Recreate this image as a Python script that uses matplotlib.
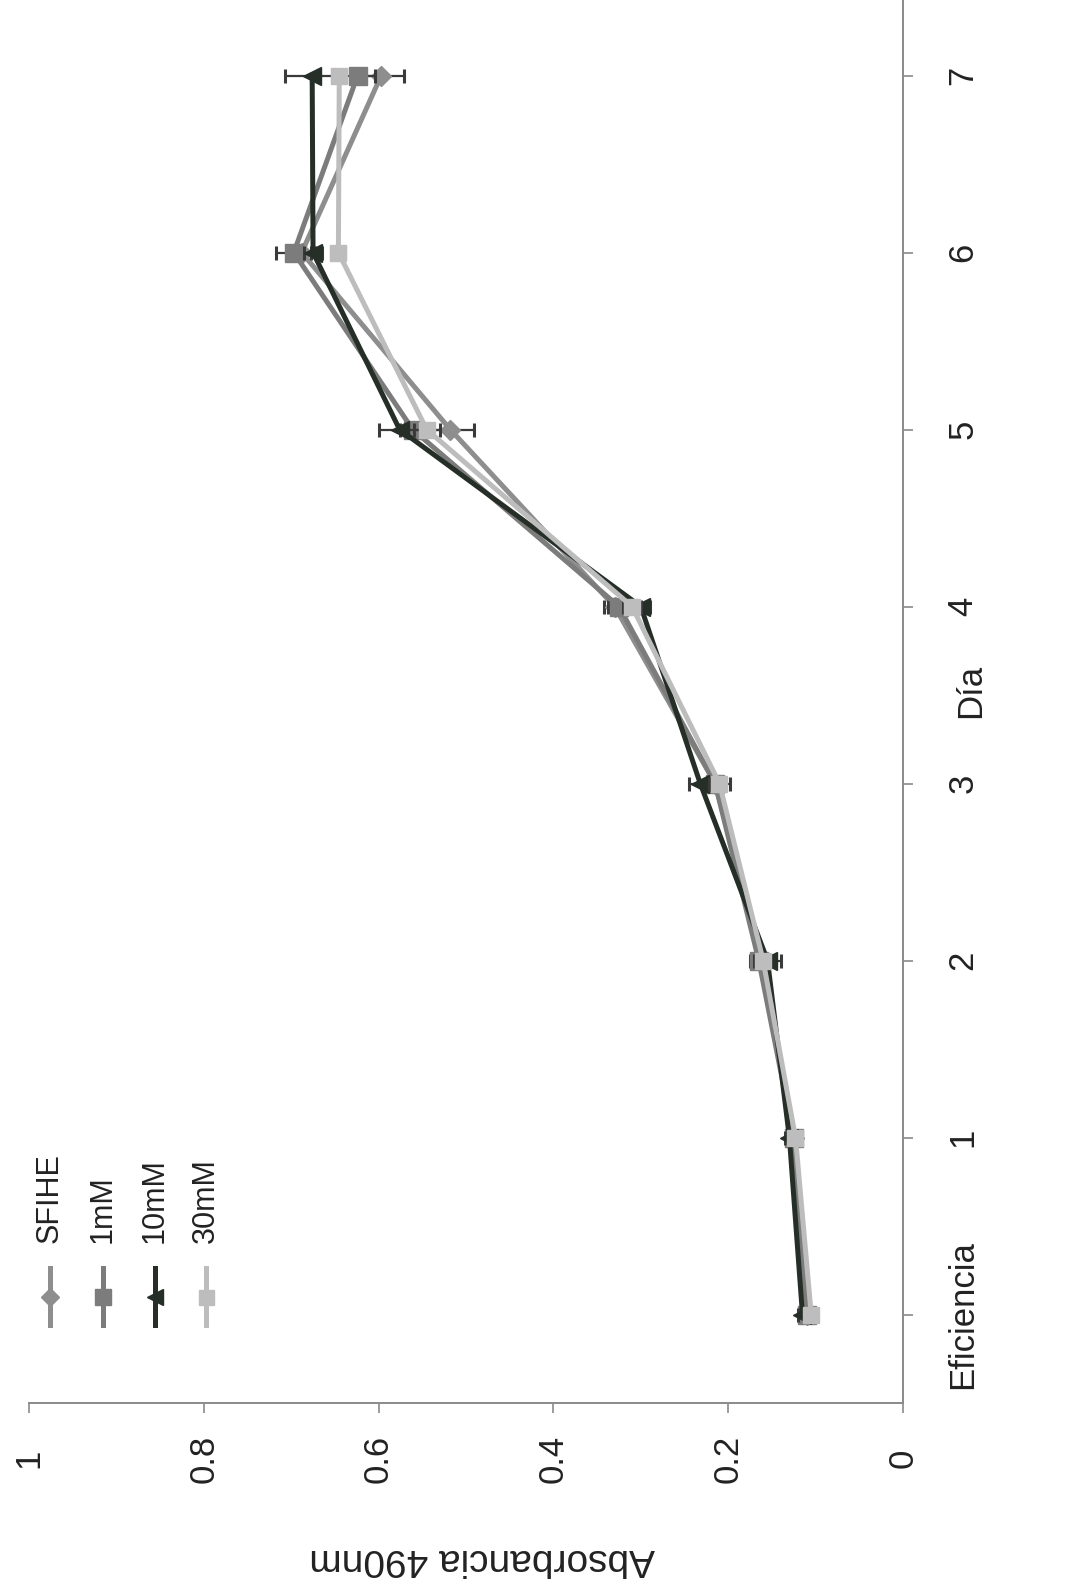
import numpy as np
import matplotlib
matplotlib.use("Agg")
import matplotlib.pyplot as plt

plt.rcParams['font.family'] = ['Liberation Sans', 'DejaVu Sans']

# Absorbance at 490 nm per day, one list per culture condition
days = ['Eficiencia', '1', '2', '3', '4', '5', '6', '7']
sfihe = [0.110, 0.125, 0.160, 0.215, 0.330, 0.518, 0.688, 0.597]
mm1 = [0.110, 0.125, 0.165, 0.215, 0.325, 0.561, 0.697, 0.624]
mm10 = [0.115, 0.130, 0.155, 0.232, 0.300, 0.576, 0.675, 0.676]
mm30 = [0.105, 0.123, 0.160, 0.210, 0.310, 0.545, 0.646, 0.645]

sfihe_err = [0.005, 0.005, 0.010, 0.008, 0.012, 0.027, 0.015, 0.026]
mm1_err = [0.005, 0.005, 0.010, 0.008, 0.012, 0.015, 0.020, 0.020]
mm10_err = [0.005, 0.005, 0.015, 0.013, 0.010, 0.024, 0.010, 0.031]
mm30_err = [0.005, 0.005, 0.008, 0.012, 0.010, 0.015, 0.008, 0.008]

series = [
    ('SFIHE', sfihe, sfihe_err, '#8e8e8e', 'D', 10),
    ('1mM', mm1, mm1_err, '#7c7c7c', 's', 13),
    ('10mM', mm10, mm10_err, '#262e28', '<', 13),
    ('30mM', mm30, mm30_err, '#bdbdbd', 's', 12),
]

W, H = 1071, 1593
fig = plt.figure(figsize=(W / 100, H / 100), dpi=100)
fig.patch.set_facecolor('white')

# chart is laid out turned on its side: days run upward, absorbance runs right-to-left
x0, x1 = 29, 903      # pixel columns of absorbance 1 and 0
y_bot, y_top = 1403, -13
ax = fig.add_axes([x0 / W, (H - y_bot) / H, (x1 - x0) / W, (y_bot - y_top) / H])
ax.set_xlim(1, 0)
ax.set_ylim(-0.5, 7.5)

idx = np.arange(len(days))
for k, (name, vals, err, col, mk, ms) in enumerate(series):
    ax.errorbar(vals, idx, xerr=err, fmt='none', ecolor='#3a3a3a',
                elinewidth=1.6, capsize=5, capthick=2.2, zorder=2 + k)
    ax.plot(vals, idx, color=col, lw=3.6, marker=mk, ms=ms,
            mec=col, mfc=col, zorder=3 + k, clip_on=False)

for side in ['left', 'top']:
    ax.spines[side].set_visible(False)
for side in ['bottom', 'right']:
    ax.spines[side].set_color('#8a8a8a')
    ax.spines[side].set_linewidth(1.4)

ax.set_xticks(np.arange(0, 1.01, 0.2))
ax.set_xticklabels(['0', '0.2', '0.4', '0.6', '0.8', '1'])
ax.yaxis.tick_right()
ax.set_yticks(idx)
ax.set_yticklabels(days)
ax.tick_params(axis='x', direction='out', length=7, width=1.2, color='#8a8a8a',
               pad=33, labelsize=25, labelcolor='#222222')
ax.tick_params(axis='y', direction='out', length=7, width=1.2, color='#8a8a8a',
               pad=36, labelsize=25, labelcolor='#222222')
for lab in ax.get_xticklabels():
    lab.set_rotation(90)
    lab.set_va('center')
    lab.set_ha('center')
for lab in ax.get_yticklabels():
    lab.set_rotation(90)
    lab.set_va('center')
    lab.set_ha('center')

ax.text(1.077, 0.503, 'Día', transform=ax.transAxes, rotation=90,
        ha='center', va='center', fontsize=25, color='#222222')
ax.text(0.518, -0.110, 'Absorbancia 490nm', transform=ax.transAxes, rotation=180,
        ha='center', va='center', fontsize=28, color='#222222')

# legend entries drawn as short vertical strokes with the series marker
leg_x = [50, 103, 155, 206]
for (name, vals, err, col, mk, ms), px in zip(series, leg_x):
    lx = (px - x0) / (x1 - x0)
    ya = (y_bot - 1268) / (y_bot - y_top)
    yb = (y_bot - 1325) / (y_bot - y_top)
    ym = (y_bot - 1297) / (y_bot - y_top)
    ax.plot([lx, lx], [yb, ya], transform=ax.transAxes, color=col, lw=3.6,
            clip_on=False, zorder=10)
    ax.plot([lx], [ym], transform=ax.transAxes, marker=mk, ms=ms * 0.9,
            color=col, mec=col, clip_on=False, zorder=11)
    ax.text(lx, (y_bot - 1243) / (y_bot - y_top), name, transform=ax.transAxes,
            rotation=90, ha='center', va='bottom', fontsize=22, color='#222222')

fig.savefig('out.png', dpi=100, facecolor='white')
